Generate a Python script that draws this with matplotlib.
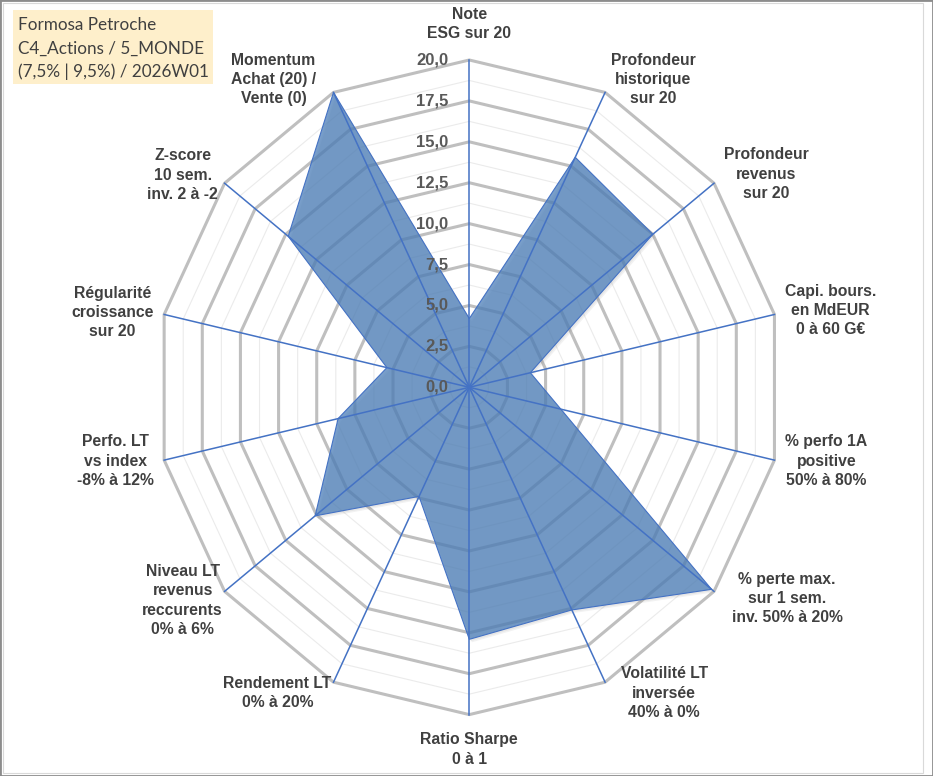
import numpy as np
import matplotlib
matplotlib.use("Agg")
import matplotlib.pyplot as plt
from matplotlib.patches import Polygon, Rectangle

# Chart content
categories = [
    'Note\nESG sur 20',
    'Profondeur\nhistorique\nsur 20',
    'Profondeur\nrevenus\nsur 20',
    'Capi. bours.\nen MdEUR\n0 à 60 G€',
    '% perfo 1A\npositive\n50% à 80%',
    '% perte max.\nsur 1 sem.\ninv. 50% à 20%',
    'Volatilité LT\ninversée\n40% à 0%',
    'Ratio Sharpe\n0 à 1',
    'Rendement LT\n0% à 20%',
    'Niveau LT\nrevenus\nreccurents\n0% à 6%',
    'Perfo. LT\nvs index\n-8% à 12%',
    'Régularité\ncroissance\nsur 20',
    'Z-score\n10 sem.\ninv. 2 à -2',
    'Momentum\nAchat (20) /\nVente (0)',
]
scores = [4.2, 15.6, 15.0, 4.0, 6.0, 19.8, 15.1, 15.4, 7.4, 12.6, 8.6, 5.4, 14.8, 20.0]
major_rings = [2.5, 5.0, 7.5, 10.0, 12.5, 15.0, 17.5, 20.0]
minor_rings = [1.25, 3.75, 6.25, 8.75, 11.25, 13.75, 16.25, 18.75]
tick_values = [0.0, 2.5, 5.0, 7.5, 10.0, 12.5, 15.0, 17.5, 20.0]
tick_labels = ['0,0', '2,5', '5,0', '7,5', '10,0', '12,5', '15,0', '17,5', '20,0']
title_lines = ['Formosa Petroche', 'C4_Actions / 5_MONDE', '(7,5% | 9,5%) / 2026W01']

# label offsets from the axis ends, in pixels (x right, y down)
label_offsets = [(0, -36), (48, -13), (52, -9), (56, -4), (52, 1), (73, 7), (59, 11),
                 (0, 35), (-56, 11), (-42, 9), (-49, 1), (-52, -2), (-42, -8), (-60, -13)]

W, H = 933, 776
CX, CY = 469.3, 387.3      # centre of the radar, pixels
RX, RY = 313.0, 327.3      # pixel length of 20 points, horizontally / vertically
RMAX = 20.0

fig = plt.figure(figsize=(W / 100, H / 100), dpi=100, facecolor='white')
ax = fig.add_axes([0, 0, 1, 1])
ax.set_xlim(-CX / RX * RMAX, (W - CX) / RX * RMAX)
ax.set_ylim(-(H - CY) / RY * RMAX, CY / RY * RMAX)
ax.axis('off')

n = len(categories)
theta = 2 * np.pi * np.arange(n) / n
sx, cy = np.sin(theta), np.cos(theta)

def ring(r):
    return np.column_stack([r * sx, r * cy])

# grid rings
for r in minor_rings:
    ax.add_patch(Polygon(ring(r), closed=True, fill=False, ec='#ebebeb', lw=0.8, zorder=1))
for r in major_rings:
    ax.add_patch(Polygon(ring(r), closed=True, fill=False, ec='#bfbfbf', lw=2.2, zorder=2))

# data polygon with a soft shadow
pts = np.column_stack([np.array(scores) * sx, np.array(scores) * cy])
dx = 2.5 / RX * RMAX
dy = -3.0 / RY * RMAX
for k, a in [(1.0, 0.10), (0.6, 0.10)]:
    ax.add_patch(Polygon(pts + [dx * k, dy * k], closed=True, fc='#808080', ec='none', alpha=a, zorder=3))
ax.add_patch(Polygon(pts, closed=True, fc='#4A7DB8', ec='none', alpha=0.74, zorder=4))
ax.add_patch(Polygon(pts, closed=True, fill=False, ec='#4472C4', lw=0.8, zorder=5))

# spokes
for s, c in zip(sx, cy):
    ax.plot([0, RMAX * s], [0, RMAX * c], color='#4472C4', lw=1.1, zorder=6)

# radial tick labels
for v, t in zip(tick_values, tick_labels):
    ax.annotate(t, xy=(0, v), xytext=(-21, 0), textcoords='offset pixels',
                ha='right', va='center', fontsize=12, fontweight='bold',
                color='#595959', family='Liberation Sans', zorder=8)

# category labels
for lab, s, c, (ox, oy) in zip(categories, sx, cy, label_offsets):
    ax.annotate(lab, xy=(RMAX * s, RMAX * c), xytext=(ox, -oy), textcoords='offset pixels',
                ha='center', va='center', multialignment='center', fontsize=11.3,
                fontweight='bold', color='#404040', family='Liberation Sans',
                linespacing=1.36, zorder=8)

# title box
fig.patches.append(Rectangle((13 / W, 1 - 84 / H), 200 / W, 74 / H, transform=fig.transFigure,
                             fc='#FEEFCB', ec='none', zorder=0))
for i, line in enumerate(title_lines):
    fig.text(18 / W, 1 - (25 + 23.5 * i) / H, line, ha='left', va='center', fontsize=12.3,
             color='#404040', family='Lato')

# frame
fig.patches.append(Rectangle((3 / W, 3 / H), 920 / W, 770 / H, transform=fig.transFigure,
                             fill=False, ec='#d9d9d9', lw=0.8))
fig.patches.append(Rectangle((0, 0), 1, 1, transform=fig.transFigure,
                             fill=False, ec='#8c8c8c', lw=2.0))

fig.savefig('out.png', dpi=100, facecolor='white')
